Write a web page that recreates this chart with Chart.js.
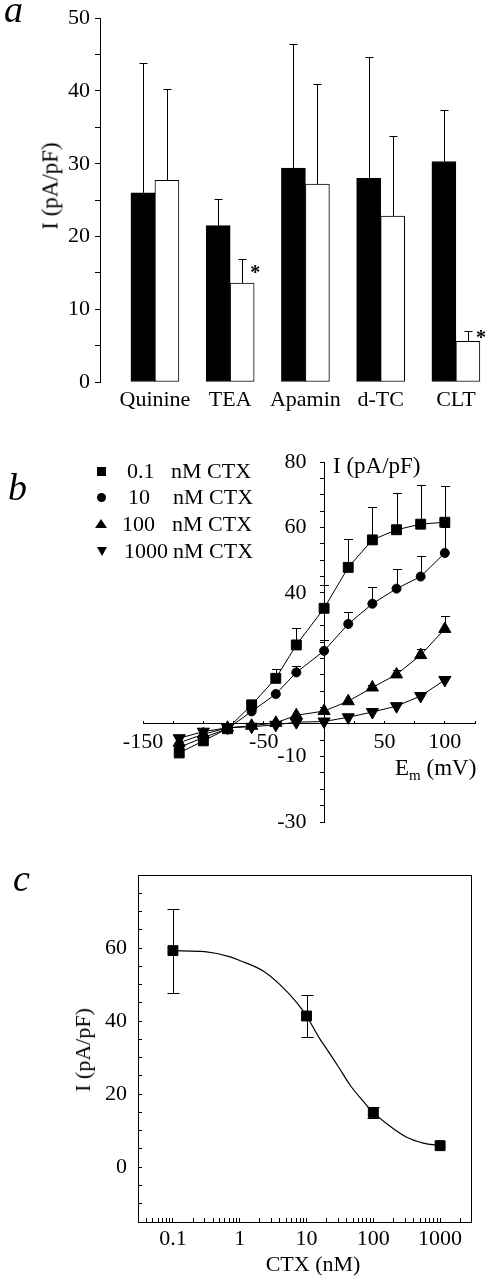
<!DOCTYPE html>
<html>
<head>
<meta charset="utf-8">
<title>CTX block of outward current</title>
<script src="https://cdn.jsdelivr.net/npm/chart.js@4.4.1/dist/chart.umd.min.js"></script>
<style>
  html, body { margin: 0; padding: 0; background: #fff; }
  #fig { position: relative; width: 489px; height: 1280px; overflow: hidden;
         font-family: "Liberation Serif", "Times New Roman", serif; color: #000; }
  #fig canvas { position: absolute; left: 0; }
  .txt { position: absolute; line-height: 1; white-space: nowrap; font-size: 22px; }
  .panel { font-style: italic; font-size: 38px; }
  .rot { transform: translate(-50%, -50%) rotate(-90deg); }
  .mk { position: absolute; }
</style>
</head>
<body>
<div id="fig">
  <canvas id="chartA" width="489" height="420" style="top:0;width:489px;height:420px"></canvas>
  <canvas id="chartB" width="489" height="420" style="top:420px;width:489px;height:420px"></canvas>
  <canvas id="chartC" width="489" height="440" style="top:840px;width:489px;height:440px"></canvas>

  <!-- panel letters -->
  <div class="txt panel" style="left:4px;top:-10px">a</div>
  <div class="txt panel" style="left:8px;top:468px">b</div>
  <div class="txt panel" style="left:13px;top:859px">c</div>

  <!-- axis titles -->
  <div class="txt rot" style="left:50px;top:186px;font-size:23px">I (pA/pF)</div>
  <div class="txt" style="left:333px;top:454px;font-size:23px">I (pA/pF)</div>
  <div class="txt" style="left:395px;top:756px;font-size:23px">E<sub style="font-size:15px;vertical-align:-5px">m</sub> (mV)</div>
  <div class="txt rot" style="left:83px;top:1050px">I (pA/pF)</div>
  <div class="txt" style="left:313px;top:1253px;transform:translateX(-50%)">CTX (nM)</div>

  <!-- legend of panel b -->
  <div class="mk" style="left:97px;top:467px;width:9px;height:9px;background:#000"></div>
  <div class="mk" style="left:96.5px;top:493px;width:9px;height:9px;border-radius:50%;background:#000"></div>
  <div class="mk" style="left:95px;top:519px;width:0;height:0;border-left:6.5px solid transparent;border-right:6.5px solid transparent;border-bottom:9px solid #000"></div>
  <div class="mk" style="left:96.5px;top:547px;width:0;height:0;border-left:5.5px solid transparent;border-right:5.5px solid transparent;border-top:9px solid #000"></div>
  <div class="txt" style="left:127px;top:460px">0.1</div>
  <div class="txt" style="left:171px;top:460px">nM CTX</div>
  <div class="txt" style="left:128px;top:486px">10</div>
  <div class="txt" style="left:173px;top:486px">nM CTX</div>
  <div class="txt" style="left:122px;top:513px">100</div>
  <div class="txt" style="left:172px;top:513px">nM CTX</div>
  <div class="txt" style="left:124px;top:540px">1000</div>
  <div class="txt" style="left:173px;top:540px">nM CTX</div>
</div>

<script>
// panel a: current before (black) and after (white) each blocker
const agents = ['Quinine', 'TEA', 'Apamin', 'd-TC', 'CLT'];
const controlCurrent = [26.0, 21.5, 29.4, 28.0, 30.3];
const controlSem = [17.9, 3.7, 17.0, 16.6, 7.1];
const blockedCurrent = [27.7, 13.6, 27.2, 22.8, 5.6];
const blockedSem = [12.6, 3.3, 13.8, 11.0, 1.4];
const significant = [false, true, false, false, true];
const aYLabels = [0, 10, 20, 30, 40, 50];

// panel b: I-V relations at four CTX concentrations
const voltages = [-120, -100, -80, -60, -40, -23, 0, 20, 40, 60, 80, 100];
const iv01 = [-8.9, -5.2, -1.5, 5.8, 13.9, 24.1, 35.3, 47.8, 56.2, 59.3, 61.0, 61.6];
const iv10 = [-7.2, -4.2, -1.5, 3.8, 9.1, 15.7, 22.3, 30.5, 36.7, 41.3, 45.0, 52.2];
const iv100 = [-5.8, -3.2, -1.2, -0.6, 0.3, 2.6, 3.9, 6.9, 11.1, 15.1, 21.0, 29.0];
const iv1000 = [-4.4, -2.4, -1.2, -0.9, -0.3, 0.5, 0.7, 2.0, 3.6, 5.4, 8.5, 13.4];
const ivSem01 = [null, null, null, 1.0, 2.9, 5.1, 7.2, 8.8, 10.0, 11.3, 11.9, 11.1];
const ivSem10 = [null, null, null, null, null, 2.1, 3.3, 3.7, 5.0, 5.9, 6.3, 7.8];
const ivSem100 = [null, null, null, null, null, null, null, null, 0.8, 1.2, 1.9, 3.9];
const ivSem1000 = [null, null, null, null, null, null, null, null, null, null, null, 1.0];
const bXLabels = [-150, -50, 50, 100];
const bYLabels = [80, 60, 40, -10, -30];

// panel c: dose-response at +60 mV
const doses = [0.1, 10, 100, 1000];
const doseCurrent = [59.3, 41.4, 15.0, 5.9];
const doseSem = [11.5, 5.8, 1.5, null];
const fitDoses = [0.1, 0.3, 0.72, 1, 2.3, 4, 7.2, 10, 16, 20, 30, 45.6, 72.6, 100, 178, 316, 562, 1000];
const fitCurrent = [59.3, 59.0, 57.6, 56.6, 53.6, 50.0, 45.0, 41.4, 35.0, 32.4, 27.5, 22.3, 17.8, 15.0, 11.2, 8.2, 6.6, 5.9];
const cXLabels = [0.1, 1, 10, 100, 1000];
const cYLabels = [0, 20, 40, 60];

Chart.defaults.font.family = '"Liberation Serif", "Times New Roman", serif';
Chart.defaults.font.size = 22;
Chart.defaults.color = '#000';

const pts = (xs, ys) => xs.map((x, i) => ({x: x, y: ys[i]}));

// error bars drawn from each dataset's sem list
const errorBars = {
  id: 'errorBars',
  afterDatasetsDraw(chart, args, opts) {
    const ctx = chart.ctx;
    const cap = opts.cap || 4;
    ctx.save();
    ctx.strokeStyle = '#000';
    ctx.lineWidth = 1;
    chart.data.datasets.forEach((ds, i) => {
      if (!ds.sem) return;
      const meta = chart.getDatasetMeta(i);
      const yScale = chart.scales[meta.yAxisID];
      meta.data.forEach((el, j) => {
        const sem = ds.sem[j];
        if (sem == null) return;
        const v = ds.data[j].y;
        const x = Math.round(el.x) + 0.5;
        const yTop = Math.round(yScale.getPixelForValue(v + sem)) + 0.5;
        const yBot = ds.semBoth ? Math.round(yScale.getPixelForValue(v - sem)) + 0.5 : el.y;
        ctx.beginPath();
        ctx.moveTo(x, yBot);
        ctx.lineTo(x, yTop);
        ctx.moveTo(x - cap, yTop);
        ctx.lineTo(x + cap, yTop);
        if (ds.semBoth) {
          ctx.moveTo(x - cap, yBot);
          ctx.lineTo(x + cap, yBot);
        }
        ctx.stroke();
      });
    });
    ctx.restore();
  }
};

// significance stars next to the white bars
const asterisks = {
  id: 'asterisks',
  afterDatasetsDraw(chart) {
    const ctx = chart.ctx;
    const meta = chart.getDatasetMeta(1);
    const ds = chart.data.datasets[1];
    const yScale = chart.scales.y;
    ctx.save();
    ctx.fillStyle = '#000';
    ctx.font = 'bold 20px "Liberation Serif"';
    ctx.textAlign = 'center';
    ctx.textBaseline = 'alphabetic';
    significant.forEach((sig, j) => {
      if (!sig) return;
      const bar = meta.data[j];
      const errTop = yScale.getPixelForValue(ds.data[j].y + ds.sem[j]);
      const x = bar.x + bar.width / 2 + 1;
      const y = (bar.y + errTop) / 2 - 2.5;
      ctx.fillText('*', x, y + 10);
    });
    ctx.restore();
  }
};

// closed frame round the plot area of panel c
const frameBox = {
  id: 'frameBox',
  afterDraw(chart) {
    const {left, top, right, bottom} = chart.chartArea;
    const ctx = chart.ctx;
    ctx.save();
    ctx.strokeStyle = '#000';
    ctx.lineWidth = 1;
    ctx.strokeRect(Math.round(left) + 0.5, Math.round(top) + 0.5, Math.round(right - left), Math.round(bottom - top));
    ctx.restore();
  }
};

const common = {
  responsive: false,
  animation: false,
  devicePixelRatio: 1,
  events: []
};

// ---------- panel a ----------
new Chart(document.getElementById('chartA'), {
  type: 'bar',
  data: {
    datasets: [{
      label: 'Control',
      data: pts(agents.map((a, i) => i + 1), controlCurrent),
      sem: controlSem,
      backgroundColor: '#000',
      borderColor: '#000',
      borderWidth: 1,
      borderSkipped: false,
      barThickness: 24
    }, {
      label: 'Blocker',
      data: pts(agents.map((a, i) => i + 1), blockedCurrent),
      sem: blockedSem,
      backgroundColor: '#fff',
      borderColor: '#000',
      borderWidth: 1,
      borderSkipped: false,
      barThickness: 24
    }]
  },
  options: {
    ...common,
    layout: {padding: {top: 16, right: 0, bottom: 0, left: 0}},
    plugins: {legend: {display: false}, tooltip: {enabled: false}, errorBars: {cap: 4}},
    scales: {
      x: {
        type: 'linear', offset: false, min: 0.27, max: 5.44,
        afterBuildTicks: s => { s.ticks = agents.map((a, i) => ({value: i + 1})); },
        afterFit: s => { s.height = 38; },
        grid: {display: false, drawTicks: false},
        border: {display: false},
        ticks: {autoSkip: false, maxRotation: 0, padding: 5, callback: v => agents[v - 1] || ''}
      },
      y: {
        min: 0, max: 50,
        afterFit: s => { s.width = 100; },
        grid: {drawOnChartArea: false, drawTicks: true, tickLength: 5, color: '#000'},
        border: {display: true, color: '#000'},
        ticks: {stepSize: 5, autoSkip: false, padding: 5, callback: v => aYLabels.includes(v) ? String(v) : ''}
      }
    }
  },
  plugins: [errorBars, asterisks]
});

// ---------- panel b ----------
const ivSeries = [
  {label: '0.1 nM CTX', y: iv01, sem: ivSem01, style: 'rect', r: 7, rot: 0},
  {label: '10 nM CTX', y: iv10, sem: ivSem10, style: 'circle', r: 4.5, rot: 0},
  {label: '100 nM CTX', y: iv100, sem: ivSem100, style: 'triangle', r: 7, rot: 0},
  {label: '1000 nM CTX', y: iv1000, sem: ivSem1000, style: 'triangle', r: 7, rot: 180}
];

new Chart(document.getElementById('chartB'), {
  type: 'scatter',
  data: {
    datasets: ivSeries.map(s => ({
      label: s.label,
      data: pts(voltages, s.y),
      sem: s.sem,
      showLine: true,
      borderColor: '#000',
      borderWidth: 1,
      pointStyle: s.style,
      pointRadius: s.r,
      pointRotation: s.rot,
      pointBackgroundColor: '#000',
      pointBorderColor: '#000',
      pointBorderWidth: 1
    }))
  },
  options: {
    ...common,
    layout: {padding: {top: 42, right: 14, bottom: 18, left: 143}},
    plugins: {legend: {display: false}, tooltip: {enabled: false}, errorBars: {cap: 4.5}},
    scales: {
      x: {
        type: 'linear', min: -150, max: 125, position: {y: 0},
        grid: {drawOnChartArea: false, tickLength: -3, color: '#000'},
        border: {color: '#000'},
        ticks: {stepSize: 25, autoSkip: false, maxRotation: 0, padding: 8,
                callback: v => bXLabels.includes(v) ? String(v) : ''}
      },
      y: {
        type: 'linear', min: -30, max: 80, position: {x: 0},
        grid: {drawOnChartArea: false, tickLength: 4, color: '#000'},
        border: {color: '#000'},
        ticks: {display: false, stepSize: 5}
      },
      yLab: {
        axis: 'y', type: 'linear', min: -30, max: 80, position: {x: -14.6},
        grid: {display: false, drawTicks: false},
        border: {display: false},
        ticks: {stepSize: 5, autoSkip: false, padding: 0,
                callback: v => bYLabels.includes(v) ? String(v) : ''}
      }
    }
  },
  plugins: [errorBars]
});

// ---------- panel c ----------
new Chart(document.getElementById('chartC'), {
  type: 'scatter',
  data: {
    datasets: [{
      label: 'Mean',
      data: pts(doses, doseCurrent),
      sem: doseSem,
      semBoth: true,
      pointStyle: 'rect',
      pointRadius: 7,
      pointBackgroundColor: '#000',
      pointBorderColor: '#000',
      pointBorderWidth: 1
    }, {
      label: 'Fit',
      data: pts(fitDoses, fitCurrent),
      showLine: true,
      pointRadius: 0,
      borderColor: '#000',
      borderWidth: 1.2,
      cubicInterpolationMode: 'monotone'
    }]
  },
  options: {
    ...common,
    layout: {padding: {top: 35, right: 18, bottom: 0, left: 0}},
    plugins: {legend: {display: false}, tooltip: {enabled: false}, errorBars: {cap: 6}},
    scales: {
      x: {
        type: 'logarithmic', min: 0.03, max: 2900,
        afterBuildTicks: s => {
          s.ticks = s.ticks.filter(t => {
            const m = t.value / Math.pow(10, Math.floor(Math.log10(t.value) + 1e-9));
            return Math.abs(m - 1.5) > 0.01;
          });
        },
        afterFit: s => { s.height = 58; },
        grid: {drawOnChartArea: false, tickLength: -4, color: '#000'},
        border: {color: '#000'},
        ticks: {autoSkip: false, maxRotation: 0, padding: 8,
                callback: v => {
                  const t = cXLabels.find(c => Math.abs(c - v) < c * 1e-6);
                  return t === undefined ? '' : String(t);
                }}
      },
      y: {
        type: 'linear', min: -15, max: 80,
        afterFit: s => { s.width = 138; },
        grid: {drawOnChartArea: false, tickLength: -4, color: '#000'},
        border: {color: '#000'},
        ticks: {stepSize: 5, autoSkip: false, padding: 15,
                callback: v => cYLabels.includes(v) ? String(v) : ''}
      }
    }
  },
  plugins: [errorBars, frameBox]
});
</script>
</body>
</html>
